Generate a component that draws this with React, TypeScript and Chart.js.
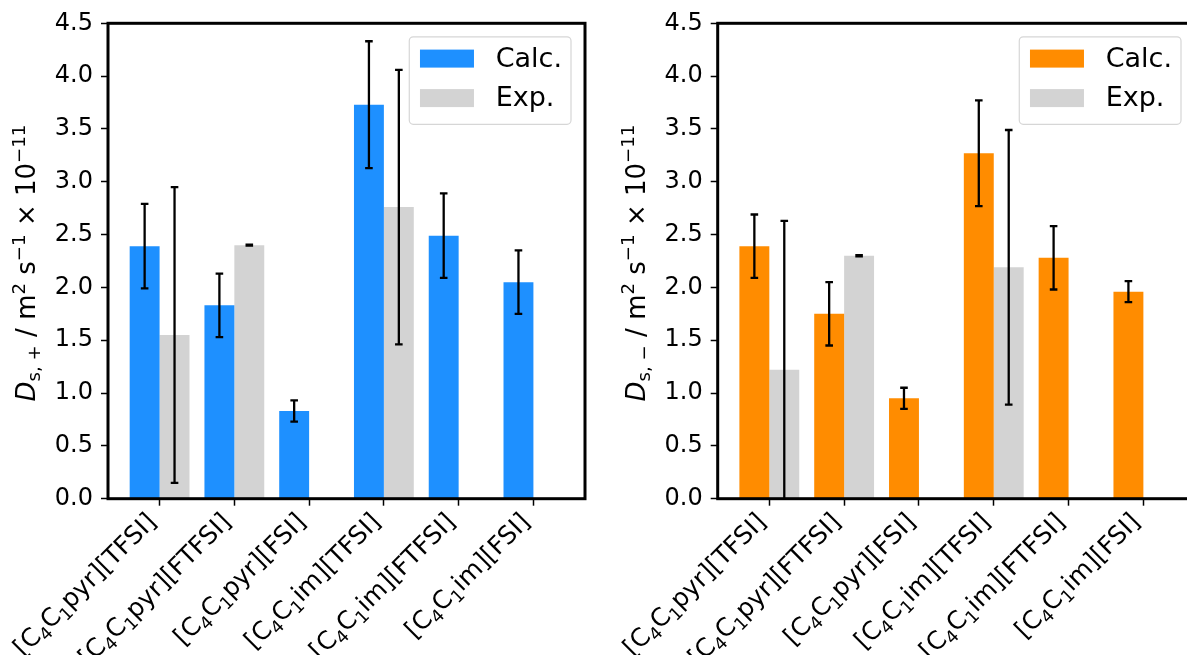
import { useEffect, useRef } from "react";
import { Chart, registerables } from "chart.js";

Chart.register(...registerables);

// ---- data ----
const categories = [
  "[C₄C₁pyr][TFSI]",
  "[C₄C₁pyr][FTFSI]",
  "[C₄C₁pyr][FSI]",
  "[C₄C₁im][TFSI]",
  "[C₄C₁im][FTFSI]",
  "[C₄C₁im][FSI]",
];
const yTickValues = [0, 0.5, 1.0, 1.5, 2.0, 2.5, 3.0, 3.5, 4.0, 4.5];

const cationCalc = [2.39, 1.83, 0.83, 3.73, 2.49, 2.05];
const cationCalcErr = [0.4, 0.3, 0.1, 0.6, 0.4, 0.3];
const cationExp: (number | null)[] = [1.55, 2.4, null, 2.76, null, null];
const cationExpErr: (number | null)[] = [1.4, 0.005, null, 1.3, null, null];

const anionCalc = [2.39, 1.75, 0.95, 3.27, 2.28, 1.96];
const anionCalcErr = [0.3, 0.3, 0.1, 0.5, 0.3, 0.1];
const anionExp: (number | null)[] = [1.22, 2.3, null, 2.19, null, null];
const anionExpErr: (number | null)[] = [1.41, 0.005, null, 1.3, null, null];

const seriesLabels = ["Calc.", "Exp."];

const FONT = '"DejaVu Sans", sans-serif';
const SUBS = "₀₁₂₃₄₅₆₇₈₉";

const errorBarPlugin = {
  id: "errorBars",
  afterDatasetsDraw(chart: any) {
    const ctx = chart.ctx;
    const ys = chart.scales.y;
    const a = chart.chartArea;
    ctx.save();
    ctx.beginPath();
    ctx.rect(a.left, a.top, a.right - a.left, a.bottom - a.top);
    ctx.clip();
    ctx.strokeStyle = "#000";
    ctx.lineWidth = 2.3;
    const cap = 3.8;
    chart.data.datasets.forEach((ds: any, di: number) => {
      const meta = chart.getDatasetMeta(di);
      ds.data.forEach((pt: any, k: number) => {
        if (!pt || pt.err == null) return;
        const el = meta.data[k];
        if (!el) return;
        const x = el.x;
        const hi = ys.getPixelForValue(pt.y + pt.err);
        const lo = ys.getPixelForValue(pt.y - pt.err);
        ctx.beginPath();
        ctx.moveTo(x, lo);
        ctx.lineTo(x, hi);
        ctx.moveTo(x - cap, hi);
        ctx.lineTo(x + cap, hi);
        ctx.moveTo(x - cap, lo);
        ctx.lineTo(x + cap, lo);
        ctx.stroke();
      });
    });
    ctx.restore();
  },
};

type Seg = { t: string; f: string; dy: number };

function drawSegs(ctx: CanvasRenderingContext2D, segs: Seg[], startX: number) {
  let x = startX;
  segs.forEach((s) => {
    ctx.font = s.f;
    ctx.fillText(s.t, x, s.dy);
    x += ctx.measureText(s.t).width;
  });
}

function segsWidth(ctx: CanvasRenderingContext2D, segs: Seg[]) {
  let total = 0;
  segs.forEach((s) => {
    ctx.font = s.f;
    total += ctx.measureText(s.t).width;
  });
  return total;
}

function labelSegs(text: string, fs: number): Seg[] {
  const normal = `${fs}px ${FONT}`;
  const small = `${fs * 0.7}px ${FONT}`;
  const segs: Seg[] = [];
  for (const ch of text) {
    const si = SUBS.indexOf(ch);
    const isSub = si >= 0;
    const t = isSub ? String(si) : ch;
    const last = segs[segs.length - 1];
    const f = isSub ? small : normal;
    const dy = isSub ? fs * 0.22 : 0;
    if (last && last.f === f && last.dy === dy) last.t += t;
    else segs.push({ t, f, dy });
  }
  return segs;
}

function drawYTitle(ctx: CanvasRenderingContext2D, cx: number, cy: number, sign: string, fs: number) {
  const normal = `${fs}px ${FONT}`;
  const small = `${fs * 0.7}px ${FONT}`;
  const segs: Seg[] = [
    { t: "D", f: `italic ${fs}px ${FONT}`, dy: 0 },
    { t: "s, " + sign, f: small, dy: fs * 0.2 },
    { t: " / m", f: normal, dy: 0 },
    { t: "2", f: small, dy: -fs * 0.4 },
    { t: " s", f: normal, dy: 0 },
    { t: "−1", f: small, dy: -fs * 0.4 },
    { t: " × 10", f: normal, dy: 0 },
    { t: "−11", f: small, dy: -fs * 0.4 },
  ];
  const total = segsWidth(ctx, segs);
  ctx.save();
  ctx.translate(cx, cy);
  ctx.rotate(-Math.PI / 2);
  ctx.fillStyle = "#000";
  ctx.textBaseline = "alphabetic";
  ctx.textAlign = "left";
  drawSegs(ctx, segs, -total / 2);
  ctx.restore();
}

const framePlugin = {
  id: "frameLegend",
  afterDraw(chart: any) {
    const ctx = chart.ctx as CanvasRenderingContext2D;
    const a = chart.chartArea;
    // frame
    ctx.save();
    ctx.strokeStyle = "#000";
    ctx.lineWidth = 3;
    ctx.strokeRect(a.left, a.top, a.right - a.left, a.bottom - a.top);
    ctx.restore();

    // x tick labels (rotated, with subscripts)
    const xs = chart.scales.x;
    const lfs = 25;
    const asc = 0.76 * lfs;
    const desc = 0.13 * lfs;
    const y0 = a.bottom + 7 + 4;
    ctx.save();
    ctx.fillStyle = "#000";
    ctx.textBaseline = "alphabetic";
    ctx.textAlign = "left";
    categories.forEach((lab, i) => {
      const px = xs.getPixelForValue(i);
      const segs = labelSegs(lab, lfs);
      const w = segsWidth(ctx, segs);
      ctx.save();
      ctx.translate(px - 0.707 * desc, y0 + 0.707 * asc);
      ctx.rotate(-Math.PI / 4);
      drawSegs(ctx, segs, -w);
      ctx.restore();
    });
    ctx.restore();

    // y title
    const opts = chart.options.plugins.frameLegend;
    drawYTitle(ctx, a.left - 73, (a.top + a.bottom) / 2 + 2, opts.sign, 26);

    // legend
    const fs = 27;
    ctx.save();
    ctx.font = `${fs}px ${FONT}`;
    const labels = chart.data.datasets.map((d: any) => d.label);
    const tw = Math.max(...labels.map((l: string) => ctx.measureText(l).width));
    const padL = 10.7, patchW = 54, patchH = 18, gap = 21.7, padR = 9;
    const w = padL + patchW + gap + tw + padR;
    const h = 87.5;
    const right = a.right - 14;
    const left = right - w;
    const top = a.top + 13.5;
    ctx.beginPath();
    const r = 4;
    ctx.moveTo(left + r, top);
    ctx.arcTo(right, top, right, top + h, r);
    ctx.arcTo(right, top + h, left, top + h, r);
    ctx.arcTo(left, top + h, left, top, r);
    ctx.arcTo(left, top, right, top, r);
    ctx.closePath();
    ctx.fillStyle = "rgba(255,255,255,0.8)";
    ctx.fill();
    ctx.strokeStyle = "#d6d6d6";
    ctx.lineWidth = 1.2;
    ctx.stroke();
    const rows = [top + 21.8, top + 61.3];
    chart.data.datasets.forEach((d: any, i: number) => {
      const cy = rows[i];
      ctx.fillStyle = d.backgroundColor;
      ctx.fillRect(left + padL, cy - patchH / 2, patchW, patchH);
      ctx.fillStyle = "#000";
      ctx.textBaseline = "middle";
      ctx.textAlign = "left";
      ctx.fillText(d.label, left + padL + patchW + gap, cy + 1);
    });
    ctx.restore();
  },
};

function makeChart(
  canvas: HTMLCanvasElement,
  calc: number[],
  calcErr: number[],
  exp: (number | null)[],
  expErr: (number | null)[],
  color: string,
  sign: string,
  yWidth: number,
  rightPad: number
) {
  const calcData = calc.map((v, i) => ({ x: i, y: v, err: calcErr[i] }));
  const expData = exp
    .map((v, i) => (v == null ? null : { x: i, y: v, err: expErr[i] }))
    .filter((p) => p !== null);
  return new Chart(canvas, {
    type: "bar",
    data: {
      datasets: [
        { label: seriesLabels[0], data: calcData as any, backgroundColor: color, borderWidth: 0 },
        { label: seriesLabels[1], data: expData as any, backgroundColor: "#d3d3d3", borderWidth: 0 },
      ],
    },
    options: {
      animation: false,
      responsive: false,
      devicePixelRatio: 1,
      categoryPercentage: 0.8,
      barPercentage: 1.0,
      layout: { padding: { left: 0, right: rightPad, top: 23.3, bottom: 0 } },
      plugins: {
        legend: { display: false },
        tooltip: { enabled: false },
        frameLegend: { sign },
      } as any,
      scales: {
        x: {
          type: "linear",
          offset: false,
          min: -0.69,
          max: categories.length - 1 + 0.69,
          afterBuildTicks: (scale: any) => {
            scale.ticks = categories.map((_, i) => ({ value: i }));
          },
          afterFit: (scale: any) => {
            scale.height = 655 - 498.7;
          },
          ticks: {
            autoSkip: false,
            minRotation: 45,
            maxRotation: 45,
            padding: 4,
            color: "rgba(0,0,0,0)",
            font: { family: FONT, size: 14 },
            callback: (v: any) => categories[Math.round(Number(v))] ?? "",
          },
          grid: {
            display: true,
            offset: false,
            drawOnChartArea: false,
            drawTicks: true,
            tickLength: 7,
            tickWidth: 1.5,
            tickColor: "#000",
          },
          border: { display: false },
        },
        y: {
          type: "linear",
          min: 0,
          max: 4.5,
          afterBuildTicks: (scale: any) => {
            scale.ticks = yTickValues.map((v) => ({ value: v }));
          },
          afterFit: (scale: any) => {
            scale.width = yWidth;
          },
          ticks: {
            padding: 8,
            color: "#000",
            font: { family: FONT, size: 24 },
            callback: (v: any) => Number(v).toFixed(1),
          },
          grid: {
            display: true,
            drawOnChartArea: false,
            drawTicks: true,
            tickLength: 7,
            tickWidth: 1.5,
            tickColor: "#000",
          },
          border: { display: false },
        },
      },
    } as any,
    plugins: [errorBarPlugin, framePlugin],
  });
}

export default function App() {
  const leftRef = useRef<HTMLCanvasElement>(null);
  const rightRef = useRef<HTMLCanvasElement>(null);
  useEffect(() => {
    const c1 = makeChart(leftRef.current!, cationCalc, cationCalcErr, cationExp, cationExpErr, "#1e90ff", "+", 108, 15);
    const c2 = makeChart(rightRef.current!, anionCalc, anionCalcErr, anionExp, anionExpErr, "#ff8c00", "−", 117.7, 15);
    return () => {
      c1.destroy();
      c2.destroy();
    };
  }, []);
  return (
    <div
      style={{
        position: "fixed",
        left: 0,
        top: 0,
        width: 1187,
        height: 655,
        overflow: "hidden",
        background: "#fff",
      }}
    >
      <canvas ref={leftRef} width={600} height={655} style={{ position: "absolute", left: 0, top: 0 }} />
      <canvas ref={rightRef} width={610} height={655} style={{ position: "absolute", left: 600, top: 0 }} />
    </div>
  );
}
